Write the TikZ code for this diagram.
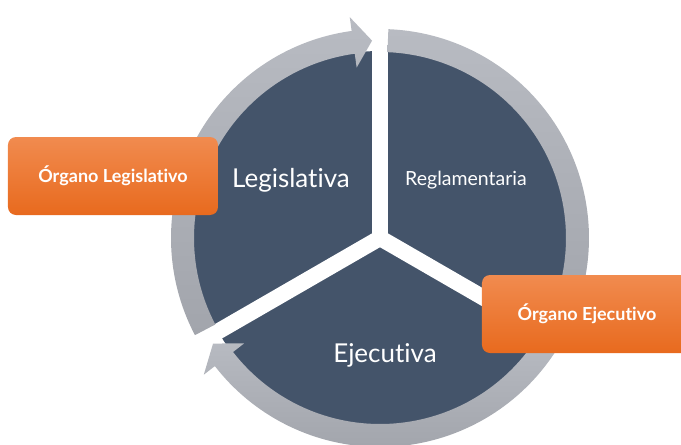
\documentclass[tikz,border=0pt]{standalone}
\usepackage{fontspec}
\setmainfont{Lato}[Ligatures=NoCommon]
\definecolor{slate}{HTML}{44546A}
\definecolor{orgtop}{HTML}{F18B4F}
\definecolor{orgbot}{HTML}{E86A1E}
\definecolor{ringtop}{HTML}{B8BBC2}
\definecolor{ringbot}{HTML}{A2A5AC}
\tikzset{
	label_big/.style = {
		text=white,
		inner sep=0pt,
		font=\fontsize{26}{30}\selectfont
	},
	label_small/.style = {
		label_big,
		font=\fontsize{19.5}{23}\selectfont
	},
	node_org/.style = {
		rounded corners=8pt,
		minimum width=210pt,
		minimum height=78pt,
		inner sep=0pt,
		top color=orgtop,
		bottom color=orgbot,
		text=white,
		font=\bfseries\fontsize{18}{21}\selectfont
	},
	ring/.style = {
		top color=ringtop,
		bottom color=ringbot
	},
	gap/.style = {
		white,
		line width=16pt,
		line cap=round
	}
}
% arc arrow on the ring: start angle, tip angle
\newcommand{\ringarrow}[2]{%
	\pgfmathsetmacro{\headbase}{#2+5.5}%
	\shade[ring] (#1:209) arc[start angle=#1, end angle=\headbase, radius=209]
		-- (\headbase:223) -- (#2:197.5) -- (\headbase:172) -- (\headbase:186)
		arc[start angle=\headbase, end angle=#1, radius=186] -- cycle;
}

\begin{document}
\begin{tikzpicture}[x=1pt, y=1pt]
\useasboundingbox (-380,-207) rectangle (301,238);
\coordinate (c) at (0,0);
\fill[slate] (c) circle (187);
\draw[gap] (c) -- (90:187);
\draw[gap] (c) -- (210:187);
\draw[gap] (c) -- (330:187);
\ringarrow{207.7}{92.3}
\ringarrow{87.7}{-27.7}
\ringarrow{-32.3}{-147.7}
\node [label_big] (legis) at (-89,58) {Legislativa};
\node [label_small] (regla) at (86,58) {Reglamentaria};
\node [label_big] (ejec) at (5,-117) {Ejecutiva};
\node [node_org] (org_leg) at (-267,62) {Órgano Legislativo};
\node [node_org] (org_ejec) at (207,-76) {Órgano Ejecutivo};
\end{tikzpicture}
\end{document}
